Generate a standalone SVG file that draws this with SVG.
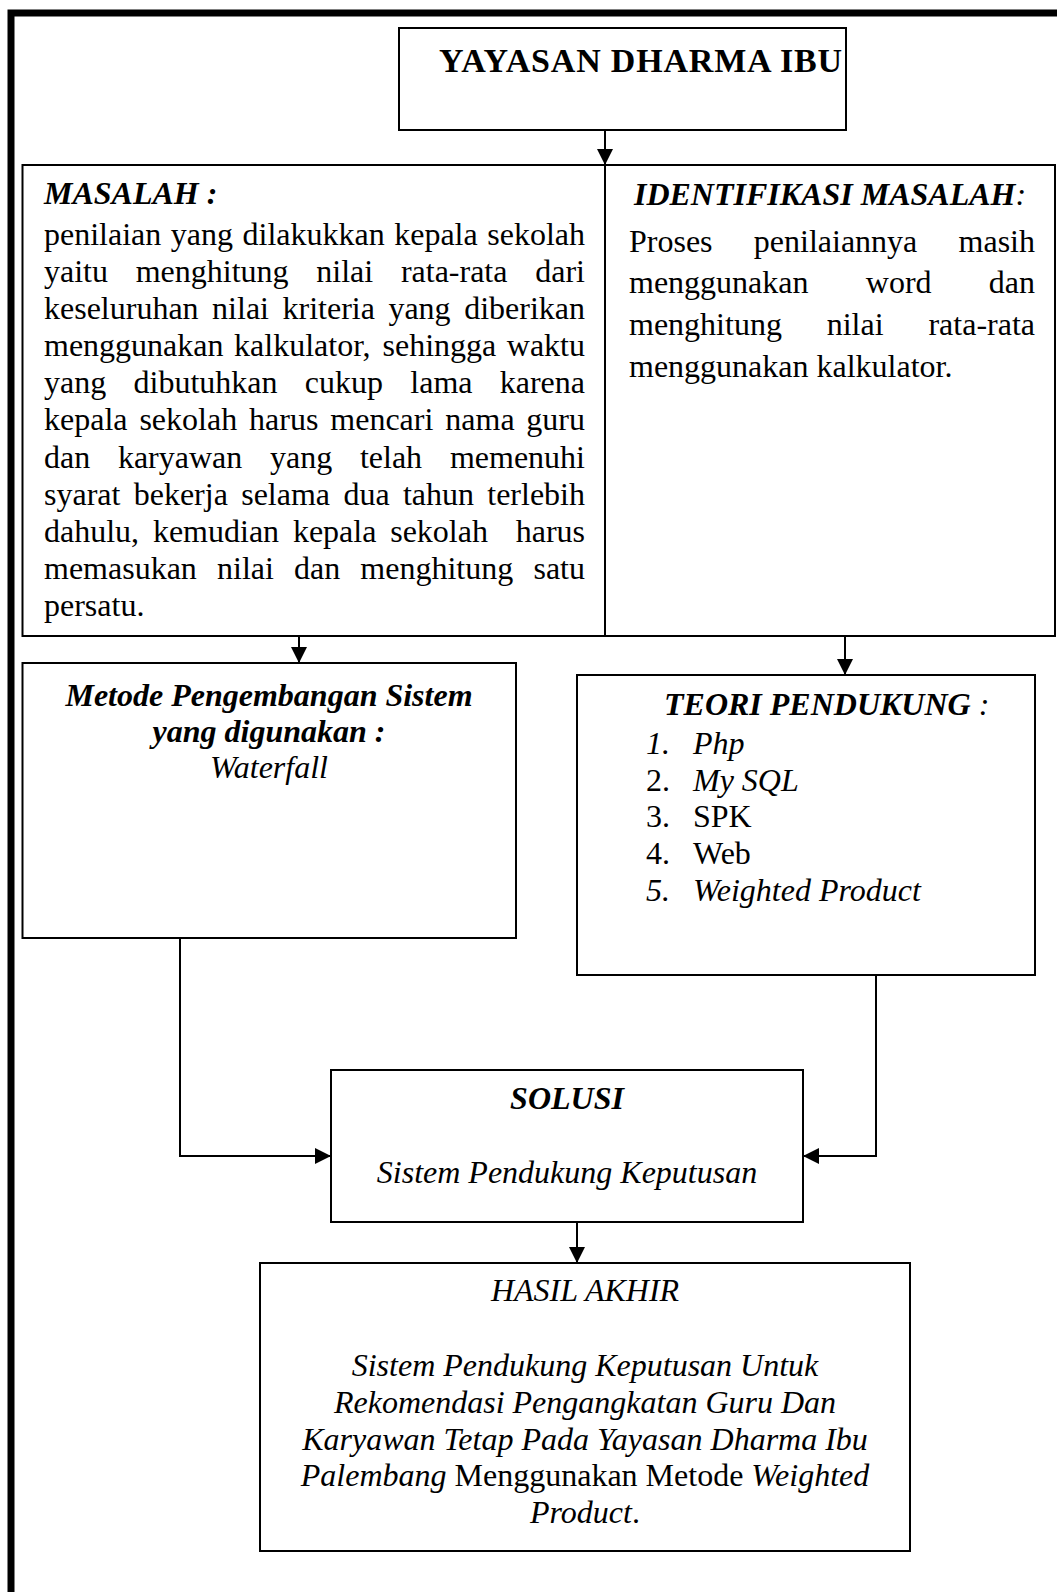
<svg xmlns="http://www.w3.org/2000/svg" width="1057" height="1592" viewBox="0 0 1057 1592">
<defs>
<style>
.box{fill:#fff;stroke:#000;stroke-width:2}
.t{font-family:"Liberation Serif","Times New Roman",serif;font-size:32px;fill:#000}
.b{font-weight:bold}
.i{font-style:italic}
.bi{font-weight:bold;font-style:italic}
.ni{font-weight:normal}
.conn{fill:none;stroke:#000;stroke-width:2}
.frame{fill:none;stroke:#000;stroke-width:7}
</style>
<marker id="arr" markerUnits="userSpaceOnUse" markerWidth="16" markerHeight="16" refX="16" refY="8" orient="auto">
<path d="M0,0 L16,8 L0,16 Z" fill="#000"/>
</marker>
</defs>
<rect width="1057" height="1592" fill="#fff"/>
<path class="frame" d="M11,1592 V13 H1057"/>

<g id="connectors">
<path class="conn" d="M605,130 V165" marker-end="url(#arr)"/>
<path class="conn" d="M299,636 V663" marker-end="url(#arr)"/>
<path class="conn" d="M845,636 V675" marker-end="url(#arr)"/>
<path class="conn" d="M180,938 V1156 H331" marker-end="url(#arr)"/>
<path class="conn" d="M876,975 V1156 H803" marker-end="url(#arr)"/>
<path class="conn" d="M577,1222 V1263" marker-end="url(#arr)"/>
</g>

<g id="title">
<rect class="box" x="399" y="28" width="447" height="102"/>
<text class="t b" x="439" y="72" style="font-size:34px" textLength="403" lengthAdjust="spacing">YAYASAN DHARMA IBU</text>
</g>

<g id="masalah">
<rect class="box" x="22.5" y="165" width="582.5" height="471"/>
<text class="t bi" x="44" y="204">MASALAH :</text>
<text class="t" y="245"><tspan x="44">penilaian</tspan><tspan x="170.8">yang</tspan><tspan x="242.5">dilakukkan</tspan><tspan x="394.2">kepala</tspan><tspan x="585" text-anchor="end">sekolah</tspan></text>
<text class="t" y="282"><tspan x="44">yaitu</tspan><tspan x="135.7">menghitung</tspan><tspan x="316.3">nilai</tspan><tspan x="400.9">rata-rata</tspan><tspan x="585" text-anchor="end">dari</tspan></text>
<text class="t" y="319"><tspan x="44">keseluruhan</tspan><tspan x="212.1">nilai</tspan><tspan x="282.5">kriteria</tspan><tspan x="388.4">yang</tspan><tspan x="585" text-anchor="end">diberikan</tspan></text>
<text class="t" y="356"><tspan x="44">menggunakan</tspan><tspan x="234.1">kalkulator,</tspan><tspan x="382.5">sehingga</tspan><tspan x="585" text-anchor="end">waktu</tspan></text>
<text class="t" y="393"><tspan x="44">yang</tspan><tspan x="133.5">dibutuhkan</tspan><tspan x="304.8">cukup</tspan><tspan x="410.3">lama</tspan><tspan x="585" text-anchor="end">karena</tspan></text>
<text class="t" y="430"><tspan x="44">kepala</tspan><tspan x="139.4">sekolah</tspan><tspan x="249.1">harus</tspan><tspan x="330.3">mencari</tspan><tspan x="445.3">nama</tspan><tspan x="585" text-anchor="end">guru</tspan></text>
<text class="t" y="467.5"><tspan x="44">dan</tspan><tspan x="117.9">karyawan</tspan><tspan x="270">yang</tspan><tspan x="359.9">telah</tspan><tspan x="585" text-anchor="end">memenuhi</tspan></text>
<text class="t" y="504.5"><tspan x="44">syarat</tspan><tspan x="133.7">bekerja</tspan><tspan x="241.2">selama</tspan><tspan x="343.4">dua</tspan><tspan x="402.9">tahun</tspan><tspan x="585" text-anchor="end">terlebih</tspan></text>
<text class="t" y="541.5"><tspan x="44">dahulu,</tspan><tspan x="152.9">kemudian</tspan><tspan x="292.9">kepala</tspan><tspan x="390.2">sekolah</tspan><tspan x="585" text-anchor="end">harus</tspan></text>
<text class="t" y="578.5"><tspan x="44">memasukan</tspan><tspan x="217">nilai</tspan><tspan x="294">dan</tspan><tspan x="360.3">menghitung</tspan><tspan x="585" text-anchor="end">satu</tspan></text>
<text class="t" x="44" y="615.5">persatu.</text>
</g>

<g id="identifikasi">
<rect class="box" x="605" y="165" width="450" height="471"/>
<text class="t bi" x="830" y="205" text-anchor="middle">IDENTIFIKASI MASALAH<tspan class="ni">:</tspan></text>
<text class="t" y="251.5"><tspan x="629">Proses</tspan><tspan x="753.8">penilaiannya</tspan><tspan x="1035" text-anchor="end">masih</tspan></text>
<text class="t" y="293"><tspan x="629">menggunakan</tspan><tspan x="865.8">word</tspan><tspan x="1035" text-anchor="end">dan</tspan></text>
<text class="t" y="335"><tspan x="629">menghitung</tspan><tspan x="826.7">nilai</tspan><tspan x="1035" text-anchor="end">rata-rata</tspan></text>
<text class="t" x="629" y="376.5">menggunakan kalkulator.</text>
</g>

<g id="metode">
<rect class="box" x="22.5" y="663" width="493.5" height="275"/>
<text class="t bi" x="269" y="705.5" text-anchor="middle">Metode Pengembangan Sistem</text>
<text class="t bi" x="269" y="742" text-anchor="middle">yang digunakan :</text>
<text class="t i" x="269" y="778" text-anchor="middle">Waterfall</text>
</g>

<g id="teori">
<rect class="box" x="577" y="675" width="458" height="300"/>
<text class="t bi" x="664" y="715">TEORI PENDUKUNG <tspan class="ni">:</tspan></text>
<text class="t i" x="646" y="753.5">1.</text><text class="t i" x="693" y="753.5">Php</text>
<text class="t" x="646" y="790.5">2.</text><text class="t i" x="693" y="790.5">My SQL</text>
<text class="t" x="646" y="827">3.</text><text class="t" x="693" y="827">SPK</text>
<text class="t" x="646" y="864">4.</text><text class="t" x="693" y="864">Web</text>
<text class="t i" x="646" y="901">5.</text><text class="t i" x="693" y="901">Weighted Product</text>
</g>

<g id="solusi">
<rect class="box" x="331" y="1070" width="472" height="152"/>
<text class="t bi" x="567" y="1109" text-anchor="middle">SOLUSI</text>
<text class="t i" x="567" y="1183" text-anchor="middle">Sistem Pendukung Keputusan</text>
</g>

<g id="hasil">
<rect class="box" x="260" y="1263" width="650" height="288"/>
<text class="t i" x="585" y="1301" text-anchor="middle">HASIL AKHIR</text>
<text class="t i" x="585" y="1376" text-anchor="middle">Sistem Pendukung Keputusan Untuk</text>
<text class="t i" x="585" y="1412.5" text-anchor="middle">Rekomendasi Pengangkatan Guru Dan</text>
<text class="t i" x="585" y="1449.5" text-anchor="middle">Karyawan Tetap Pada Yayasan Dharma Ibu</text>
<text class="t" x="585" y="1486" text-anchor="middle"><tspan class="i">Palembang</tspan> Menggunakan Metode <tspan class="i">Weighted</tspan></text>
<text class="t" x="585" y="1523" text-anchor="middle"><tspan class="i">Product</tspan>.</text>
</g>
</svg>
